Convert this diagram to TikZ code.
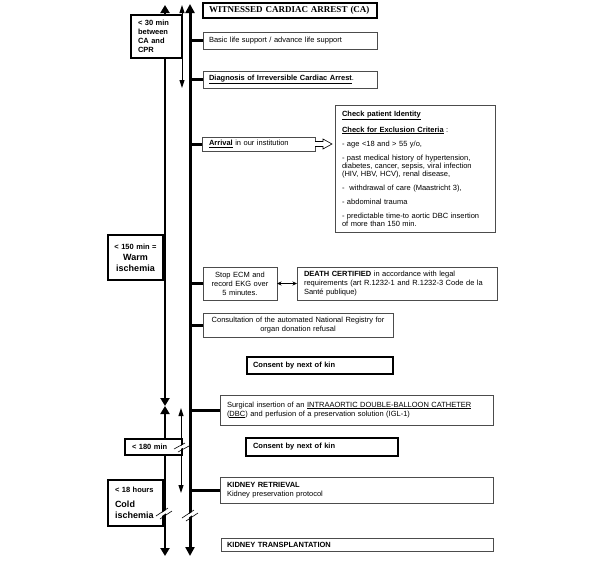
\documentclass[tikz,border=0pt]{standalone}
\usepackage{fontspec}
\setmainfont{Liberation Sans}
\newfontfamily\serifbold{Liberation Serif}
\usetikzlibrary{arrows.meta,calc}
\begin{document}
\begin{tikzpicture}[x=1pt,y=-1pt,
  font=\fontsize{7.5}{9}\selectfont,
  box/.style={draw=black!70, line width=0.6pt, anchor=north west, inner sep=0pt, outer sep=0pt, fill=white},
  hbox/.style={draw=black, line width=1.2pt, anchor=north west, inner sep=0pt, outer sep=0pt, fill=white},
  sideline/.style={line width=2.5pt, {Triangle[width=9pt,length=8pt]}-{Triangle[width=9pt,length=8pt]}},
  thinarrow/.style={line width=1pt, {Triangle[width=5pt,length=8pt]}-{Triangle[width=5pt,length=8pt]}},
  branch/.style={line width=3pt},
  breakgap/.style={white, line width=2.6pt},
  breakline/.style={black, line width=0.6pt}
]
\useasboundingbox (0,0) rectangle (600,560);

% vertical lines
\coordinate (mt) at (190,4);
\coordinate (mb) at (190,556);
\coordinate (lt) at (165,5);
\coordinate (lm) at (165,406);
\coordinate (lb) at (165,556);
\coordinate (at1) at (182,5);
\coordinate (ab1) at (182,88);
\coordinate (at2) at (181,408);
\coordinate (ab2) at (181,493);

\draw[line width=3pt, {Triangle[width=9pt,length=9pt]}-{Triangle[width=9pt,length=9pt]}] (mt) -- (mb);
\draw[sideline] (lt) -- (lm);
\draw[sideline] (lm) -- (lb);
\draw[thinarrow] (at1) -- (ab1);
\draw[thinarrow] (at2) -- (ab2);

% left labels
\node[hbox, minimum width=51pt, minimum height=43pt, inner xsep=7pt, text width=37pt, align=left, font=\fontsize{7.5}{9}\selectfont\bfseries] (t30) at (131,15) {< 30 min\\between\\CA and\\CPR};
\node[hbox, minimum width=55pt, minimum height=45pt, text width=55pt, align=center, font=\fontsize{7.5}{11}\selectfont\bfseries] (warm) at (108,235) {< 150 min =\\{\fontsize{9}{11}\selectfont Warm}\\{\fontsize{9}{11}\selectfont ischemia}};
\node[hbox, minimum width=57pt, minimum height=16pt, inner xsep=7pt, text width=43pt, align=left, font=\fontsize{7.5}{9}\selectfont\bfseries] (t180) at (125,439) {< 180 min};
\node[hbox, minimum width=55pt, minimum height=46pt, inner xsep=7pt, text width=41pt, align=left, font=\fontsize{7.5}{11}\selectfont\bfseries] (cold) at (108,480) {< 18 hours\\[4pt]{\fontsize{9}{11}\selectfont Cold}\\{\fontsize{9}{11}\selectfont ischemia}};

% main boxes
\node[hbox, minimum width=174pt, minimum height=15pt, inner xsep=6pt, text width=162pt, align=left, font=\serifbold\bfseries\fontsize{9}{10}\selectfont] (title) at (203,3) {WITNESSED CARDIAC ARREST (CA)};
\node[box, minimum width=174pt, minimum height=17pt, inner xsep=6pt, text width=162pt, align=left] (basic) at (203,32) {Basic life support / advance life support};
\node[box, minimum width=174pt, minimum height=17pt, inner xsep=6pt, text width=162pt, align=left] (diag) at (203,71) {\textbf{\underline{Diagnosis of Irreversible Cardiac Arrest}}.};
\node[box, minimum width=113pt, minimum height=14pt, inner xsep=7pt, text width=99pt, align=left] (arrival) at (202,137) {\textbf{\underline{Arrival}} in our institution};
\node[box, minimum width=160pt, minimum height=127pt, inner xsep=7pt, text width=146pt, align=left, font=\fontsize{7.5}{8}\selectfont] (check) at (335,105) {%
\textbf{\underline{Check patient Identity}}\\[6pt]
\textbf{\underline{Check for Exclusion Criteria}} :\\[6pt]
- age <18 and > 55 y/o,\\[6pt]
- past medical history of hypertension,\\
diabetes, cancer, sepsis, viral infection\\
(HIV, HBV, HCV), renal disease,\\[6pt]
-\ \ withdrawal of care (Maastricht 3),\\[6pt]
- abdominal trauma\\[6pt]
- predictable time-to aortic DBC insertion\\
of more than 150 min.};
\node[box, minimum width=74pt, minimum height=33pt, text width=72pt, align=center] (stop) at (203,267) {Stop ECM and\\record EKG over\\5 minutes.};
\node[box, minimum width=200pt, minimum height=33pt, inner xsep=7pt, text width=186pt, align=left] (death) at (297,267) {\textbf{DEATH CERTIFIED} in accordance with legal\\requirements (art R.1232-1 and R.1232-3 Code de la\\Santé publique)};
\node[box, minimum width=190pt, minimum height=24pt, text width=186pt, align=center, font=\fontsize{7.5}{8.5}\selectfont] (consult) at (203,313) {Consultation of the automated National Registry for\\organ donation refusal};
\node[hbox, minimum width=146pt, minimum height=17pt, inner xsep=6pt, text width=134pt, align=left, font=\fontsize{7.5}{9}\selectfont\bfseries] (consent1) at (247,357) {Consent by next of kin};
\node[box, minimum width=273pt, minimum height=30pt, inner xsep=7pt, text width=259pt, align=left] (surg) at (220,395) {Surgical insertion of an \underline{INTRAAORTIC DOUBLE-BALLOON CATHETER}\\(\underline{DBC}) and perfusion of a preservation solution (IGL-1)};
\node[hbox, minimum width=152pt, minimum height=18pt, inner xsep=7pt, text width=138pt, align=left, font=\fontsize{7.5}{9}\selectfont\bfseries] (consent2) at (246,438) {Consent by next of kin};
\node[box, minimum width=273pt, minimum height=26pt, inner xsep=7pt, text width=259pt, align=left] (retr) at (220,477) {\textbf{KIDNEY RETRIEVAL}\\Kidney preservation protocol};
\node[box, minimum width=272pt, minimum height=13pt, inner xsep=6pt, text width=260pt, align=left] (transp) at (221,538) {\textbf{KIDNEY TRANSPLANTATION}};

% branches
\draw[branch] (basic.west) -- (basic.west -| mt);
\draw[branch] (diag.west) -- (diag.west -| mt);
\draw[branch] (arrival.west) -- (arrival.west -| mt);
\draw[branch] (stop.west) -- (stop.west -| mt);
\draw[branch] (consult.west) -- (consult.west -| mt);
\draw[branch] (surg.west) -- (surg.west -| mt);
\draw[branch] (retr.west) -- (retr.west -| mt);

% stop <-> death
\draw[line width=0.8pt, {Stealth[length=4.5pt,width=4pt]}-{Stealth[length=4.5pt,width=4pt]}] (stop.east) -- (death.west);

% hollow arrow arrival -> check
\draw[line width=0.6pt, fill=white] ($(arrival.east)+(0,-2.5)$) -- ++(8,0) -- ++(0,-2.5) -- ($(check.west |- arrival.east)+(-3,0)$) -- ($(arrival.east)+(8,5)$) -- ++(0,-2.5) -- ($(arrival.east)+(0,2.5)$);

% breaks
\draw[breakgap] (158,517) -- (170,509);
\draw[breakline] (156,516) -- (168,508);
\draw[breakline] (160,519) -- (172,511);
\draw[breakgap] (184,519) -- (196,511);
\draw[breakline] (182,518) -- (194,510);
\draw[breakline] (186,521) -- (198,513);
\draw[breakgap] (176,450) -- (187,444);
\draw[breakline] (174,449) -- (185,443);
\draw[breakline] (178,452) -- (189,446);
\end{tikzpicture}
\end{document}
